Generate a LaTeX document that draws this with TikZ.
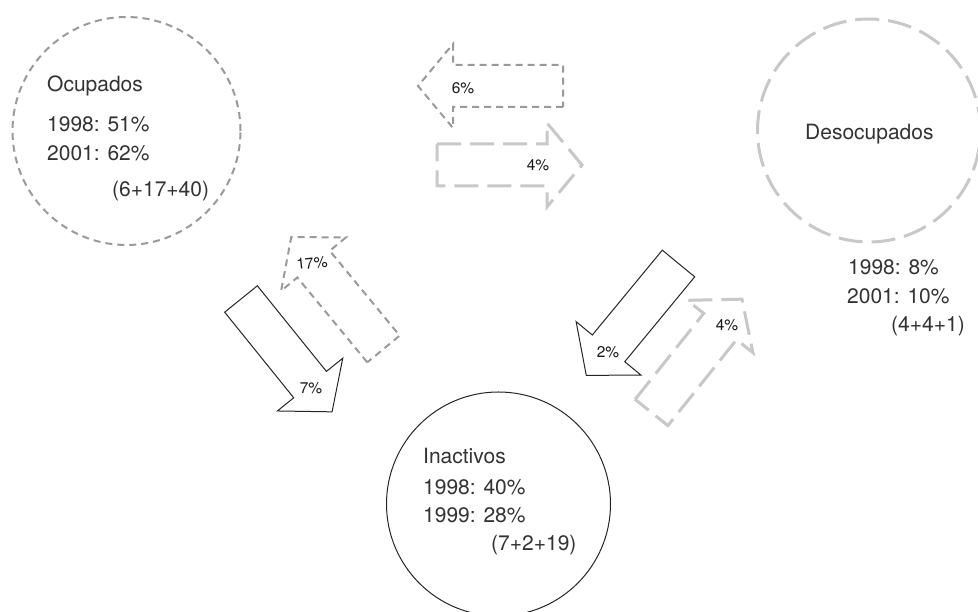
\documentclass[tikz,border=0pt]{standalone}
\usepackage{fontspec}
\setmainfont{TeX Gyre Heros}
\definecolor{darkg}{HTML}{9A9A9A}
\definecolor{lightg}{HTML}{C8C8C8}
\definecolor{txt}{HTML}{333333}
\tikzset{
  darkdash/.style={draw=darkg, line width=2pt, dash pattern=on 7pt off 5pt},
  lightdash/.style={draw=lightg, line width=3pt, dash pattern=on 24pt off 9pt},
  solidline/.style={draw=black!85, line width=1pt, fill=white},
  circtxt/.style={anchor=base west, inner sep=0pt, text=txt, font=\fontsize{21}{25}\selectfont},
  arrtxt/.style={inner sep=0pt, text=black!90, font=\fontsize{15.5}{18}\selectfont},
  ring/.style={circle, inner sep=0pt, minimum size=#1},
  pics/flecha/.style={code={
    \draw[pic actions] (0,21) -- (110,21) -- (110,42) -- (145,0) -- (110,-42) -- (110,-21) -- (0,-21) -- cycle;
  }}
}
\begin{document}
\begin{tikzpicture}[x=1pt,y=1pt]
\useasboundingbox (0,0) rectangle (978,612);
% circles
\node[ring=228pt, darkdash] (ocup) at (126.5,481) {};
\node[ring=223pt, lightdash] (desoc) at (869,481.5) {};
\node[ring=224pt, solidline] (inact) at (498.5,108) {};
% Ocupados text
\node[circtxt] (o1) at (47,520.3) {Ocupados};
\node[circtxt] (o2) at (47,480.3) {1998: 51\%};
\node[circtxt] (o3) at (47,451.3) {2001: 62\%};
\node[circtxt] (o4) at (112,415.3) {(6+17+40)};
% Desocupados text
\node[circtxt] (d1) at (805,472.7) {Desocupados};
\node[circtxt] (d2) at (848,337) {1998: 8\%};
\node[circtxt] (d3) at (847,308) {2001: 10\%};
\node[circtxt] (d4) at (891,280.3) {(4+4+1)};
% Inactivos text
\node[circtxt] (i1) at (423,148.7) {Inactivos};
\node[circtxt] (i2) at (423,117.7) {1998: 40\%};
\node[circtxt] (i3) at (423,89.7) {1999: 28\%};
\node[circtxt] (i4) at (491,61.3) {(7+2+19)};
% arrows
\pic[darkdash, rotate=180] (a6) at (563,526) {flecha};
\pic[lightdash] (a4t) at (437,447) {flecha};
\pic[darkdash, rotate=129.5] (a17) at (383.5,263) {flecha};
\pic[solidline, rotate=-51.1] (a7) at (241,313) {flecha};
\pic[solidline, rotate=-129.5] (a2) at (678.5,348.5) {flecha};
\pic[lightdash, rotate=51.4] (a4b) at (651.5,199.5) {flecha};
% arrow labels
\node[arrtxt] (l6) at (463,524) {6\%};
\node[arrtxt] (l4t) at (538,447) {4\%};
\node[arrtxt, rotate=6] (l17) at (312,349) {17\%};
\node[arrtxt] (l7) at (311,224) {7\%};
\node[arrtxt] (l2) at (608,260) {2\%};
\node[arrtxt] (l4b) at (727,287) {4\%};
\end{tikzpicture}
\end{document}
